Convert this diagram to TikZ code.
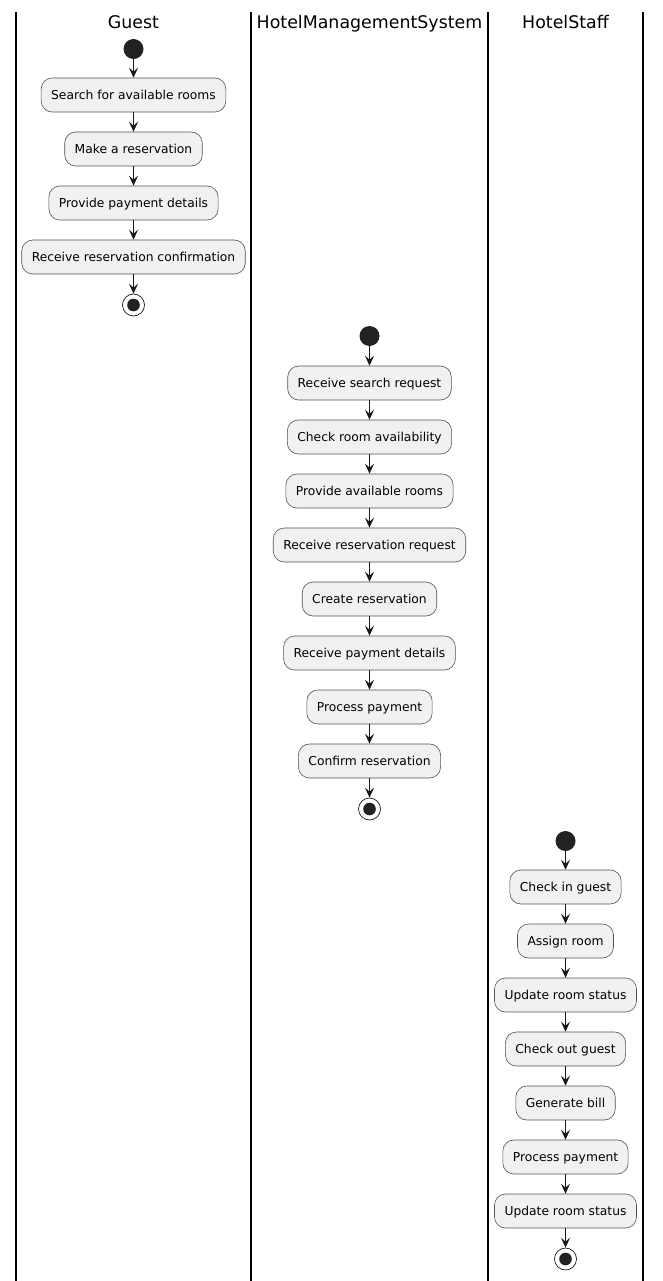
\documentclass[tikz,border=0pt]{standalone}
\usepackage{fontspec}
\setmainfont{DejaVu Sans}
\usetikzlibrary{arrows.meta}
\definecolor{actfill}{HTML}{F1F1F1}
\definecolor{actline}{HTML}{181818}
\definecolor{dotfill}{HTML}{222222}
\tikzset{
  lane/.style={line width=1.4pt, black},
  lanetitle/.style={anchor=base, inner sep=0pt, font=\fontsize{17.4}{20}\selectfont},
  action/.style={draw=actline!75, line width=0.6pt, fill=actfill, rounded corners=11pt,
    minimum height=34pt, inner xsep=10pt, inner ysep=0pt, text height=9pt, text depth=0pt,
    font=\fontsize{12.3}{14}\selectfont},
  startnode/.style={circle, fill=dotfill, minimum size=20pt, inner sep=0pt},
  endnode/.style={circle, draw=actline, line width=0.7pt, fill=white, minimum size=22pt, inner sep=0pt,
    path picture={\fill[dotfill] (path picture bounding box.center) circle (6.3pt);}},
  flow/.style={actline, line width=0.9pt, -{Stealth[length=10pt,width=9pt,inset=4pt]}}
}
\begin{document}
\begin{tikzpicture}[x=1pt,y=-1pt]
  \fill[white] (0,0) rectangle (663,1281);
  \useasboundingbox (0,0) rectangle (663,1281);

  % swimlane borders
  \foreach \lx in {16,251,488,643} \draw[lane] (\lx,12) -- (\lx,1281);

  % lane titles
  \node[lanetitle] (tg) at (133.5,29) {Guest};
  \node[lanetitle] (th) at (369.5,29) {HotelManagementSystem};
  \node[lanetitle] (ts) at (565.5,29) {HotelStaff};

  % Guest
  \node[startnode] (g0) at (133.5,49) {};
  \node[action] (g1) at (133.5,95) {Search for available rooms};
  \node[action] (g2) at (133.5,149) {Make a reservation};
  \node[action] (g3) at (133.5,203) {Provide payment details};
  \node[action] (g4) at (133.5,257) {Receive reservation confirmation};
  \node[endnode] (gE) at (133.5,305) {};
  \draw[flow] (g0) -- (g1);
  \draw[flow] (g1) -- (g2);
  \draw[flow] (g2) -- (g3);
  \draw[flow] (g3) -- (g4);
  \draw[flow] (g4) -- (gE);

  % HotelManagementSystem
  \node[startnode] (h0) at (369.5,336) {};
  \node[action] (h1) at (369.5,383) {Receive search request};
  \node[action] (h2) at (369.5,437) {Check room availability};
  \node[action] (h3) at (369.5,491) {Provide available rooms};
  \node[action] (h4) at (369.5,545) {Receive reservation request};
  \node[action] (h5) at (369.5,599) {Create reservation};
  \node[action] (h6) at (369.5,653) {Receive payment details};
  \node[action] (h7) at (369.5,707) {Process payment};
  \node[action] (h8) at (369.5,761) {Confirm reservation};
  \node[endnode] (hE) at (369.5,809) {};
  \draw[flow] (h0) -- (h1);
  \draw[flow] (h1) -- (h2);
  \draw[flow] (h2) -- (h3);
  \draw[flow] (h3) -- (h4);
  \draw[flow] (h4) -- (h5);
  \draw[flow] (h5) -- (h6);
  \draw[flow] (h6) -- (h7);
  \draw[flow] (h7) -- (h8);
  \draw[flow] (h8) -- (hE);

  % HotelStaff
  \node[startnode] (s0) at (565.5,841) {};
  \node[action] (s1) at (565.5,887) {Check in guest};
  \node[action] (s2) at (565.5,941) {Assign room};
  \node[action] (s3) at (565.5,995) {Update room status};
  \node[action] (s4) at (565.5,1049) {Check out guest};
  \node[action] (s5) at (565.5,1103) {Generate bill};
  \node[action] (s6) at (565.5,1157) {Process payment};
  \node[action] (s7) at (565.5,1211) {Update room status};
  \node[endnode] (sE) at (565.5,1259) {};
  \draw[flow] (s0) -- (s1);
  \draw[flow] (s1) -- (s2);
  \draw[flow] (s2) -- (s3);
  \draw[flow] (s3) -- (s4);
  \draw[flow] (s4) -- (s5);
  \draw[flow] (s5) -- (s6);
  \draw[flow] (s6) -- (s7);
  \draw[flow] (s7) -- (sE);
\end{tikzpicture}
\end{document}
